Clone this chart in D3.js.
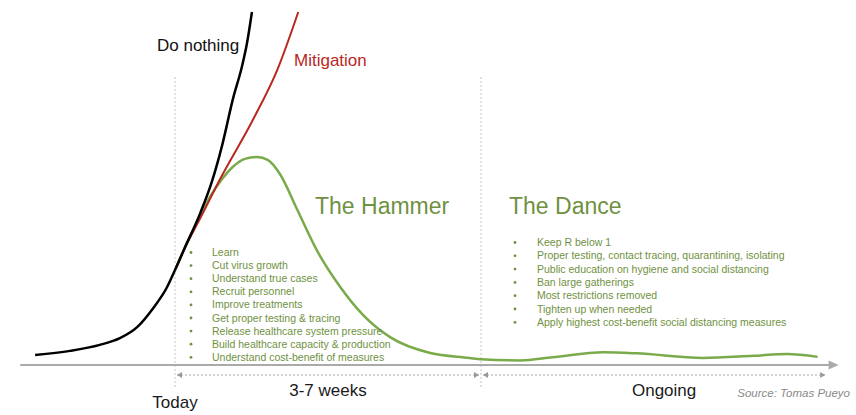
<!DOCTYPE html>
<html>
<head>
<meta charset="utf-8">
<script src="https://cdn.jsdelivr.net/npm/d3@7"></script>
<style>
  body { margin: 0; background: #fff; }
  svg { display: block; font-family: 'Liberation Sans', Arial, sans-serif; }
</style>
</head>
<body>
<svg id="chart" width="856" height="415"></svg>
<script>
// x in days from "Today", y in relative cases (0 = axis, 100 = top)
const doNothing = [
  [-16.0, 2.8], [-12.0, 4.0], [-8.6, 5.7], [-6.3, 7.6], [-4.3, 10.8], [-2.5, 16.1],
  [-0.9, 22.1], [0, 26.9], [1.1, 33.1], [2.9, 43.1], [4.2, 51.8], [5.4, 62.3],
  [6.6, 75.1], [7.7, 85.0], [8.2, 90.7], [8.8, 100]
]
const mitigation = [
  [0, 26.9], [1.1, 33.1], [2.9, 41.6], [5.1, 52.4], [8.9, 69.4], [11.7, 83.6], [14.1, 100]
]
const hammerDance = [
  [0.2, 28.0], [1.1, 33.1], [2.9, 42.2], [4.0, 47.6], [5.3, 52.4], [6.6, 56.1],
  [8.0, 58.4], [9.4, 58.9], [10.6, 58.1], [12.0, 54.1], [14.0, 43.9], [16.2, 32.6],
  [18.9, 22.1], [21.5, 14.2], [24.6, 7.9], [29.2, 3.4], [33.7, 2.0], [35.0, 1.6],
  [39.5, 1.3], [43.2, 2.2], [49.0, 3.6], [52.8, 3.3], [60.4, 2.0], [66.1, 2.6],
  [70.0, 3.1], [73.5, 2.3]
]
const phaseMarks = [0, 35]          // Today, end of the hammer
const axisExtent = [-17.7, 75.9]
const spans = [
  { from: 0, to: 35, label: '3-7 weeks' },
  { from: 35, to: 74.6, label: 'Ongoing' }
]
const hammerItems = [
  'Learn', 'Cut virus growth', 'Understand true cases', 'Recruit personnel',
  'Improve treatments', 'Get proper testing & tracing', 'Release healthcare system pressure',
  'Build healthcare capacity & production', 'Understand cost-benefit of measures'
]
const danceItems = [
  'Keep R below 1', 'Proper testing, contact tracing, quarantining, isolating',
  'Public education on hygiene and social distancing', 'Ban large gatherings',
  'Most restrictions removed', 'Tighten up when needed',
  'Apply highest cost-benefit social distancing measures'
]

const green = '#7aab4a'
const textGreen = '#6f9142'

const svg = d3.select('#chart')

const x = d3.scaleLinear().domain([0, 35]).range([175, 481])
const y = d3.scaleLinear().domain([0, 100]).range([365, 12])

const line = d3.line()
  .x(d => x(d[0]))
  .y(d => y(d[1]))
  .curve(d3.curveMonotoneX)

// dotted phase dividers
svg.selectAll('.divider')
  .data(phaseMarks)
  .enter()
  .append('line')
  .attr('class', 'divider')
  .attr('x1', d => x(d)).attr('x2', d => x(d))
  .attr('y1', 77).attr('y2', 387)
  .attr('stroke', '#c4c4c4')
  .attr('stroke-width', 1)
  .attr('stroke-dasharray', '2,2')

// main axis with arrow
const x0 = x(axisExtent[0])
const x1 = x(axisExtent[1])
svg.append('line')
  .attr('x1', x0).attr('x2', x1 - 8)
  .attr('y1', y(0)).attr('y2', y(0))
  .attr('stroke', '#aaa')
  .attr('stroke-width', 2)
svg.append('path')
  .attr('d', `M${x1},${y(0)} L${x1 - 10},${y(0) - 4.5} L${x1 - 10},${y(0) + 4.5} Z`)
  .attr('fill', '#aaa')

// span arrows under the axis
const spanY = 375
const spanG = svg.selectAll('.span')
  .data(spans)
  .enter()
  .append('g')
  .attr('class', 'span')
spanG.append('line')
  .attr('x1', d => x(d.from) + 2).attr('x2', d => x(d.to) - 2)
  .attr('y1', spanY).attr('y2', spanY)
  .attr('stroke', '#aaa')
  .attr('stroke-width', 1)
  .attr('stroke-dasharray', '2,2')
spanG.append('path')
  .attr('d', d => {
    const a = x(d.from) + 2
    const b = x(d.to) - 2
    return `M${a},${spanY} L${a + 5},${spanY - 3} L${a + 5},${spanY + 3} Z` +
      `M${b},${spanY} L${b - 5},${spanY - 3} L${b - 5},${spanY + 3} Z`
  })
  .attr('fill', '#999')
spanG.append('text')
  .text(d => d.label)
  .attr('x', d => (x(d.from) + x(d.to)) / 2 + (d.label === 'Ongoing' ? 10 : 0))
  .attr('y', 396)
  .attr('text-anchor', 'middle')
  .attr('font-size', 17)
  .attr('fill', '#1a1a1a')

svg.append('text')
  .text('Today')
  .attr('x', x(0))
  .attr('y', 408)
  .attr('text-anchor', 'middle')
  .attr('font-size', 17)
  .attr('fill', '#1a1a1a')

svg.append('text')
  .text('Source: Tomas Pueyo')
  .attr('x', 850)
  .attr('y', 397)
  .attr('text-anchor', 'end')
  .attr('font-size', 11.5)
  .attr('font-style', 'italic')
  .attr('fill', '#8a8a8a')

// curves
svg.append('path')
  .datum(hammerDance)
  .attr('d', line)
  .attr('fill', 'none')
  .attr('stroke', green)
  .attr('stroke-width', 2.5)

svg.append('path')
  .datum(mitigation)
  .attr('d', line)
  .attr('fill', 'none')
  .attr('stroke', '#b8281e')
  .attr('stroke-width', 2)

svg.append('path')
  .datum(doNothing)
  .attr('d', line)
  .attr('fill', 'none')
  .attr('stroke', '#000')
  .attr('stroke-width', 2.5)

// curve labels
svg.append('text')
  .text('Do nothing')
  .attr('x', 157).attr('y', 51)
  .attr('font-size', 17)
  .attr('fill', '#111')

svg.append('text')
  .text('Mitigation')
  .attr('x', 294).attr('y', 66)
  .attr('font-size', 17)
  .attr('fill', '#b8281e')

svg.append('text')
  .text('The Hammer')
  .attr('x', 315).attr('y', 214)
  .attr('font-size', 23)
  .attr('fill', textGreen)

svg.append('text')
  .text('The Dance')
  .attr('x', 509).attr('y', 214)
  .attr('font-size', 23)
  .attr('fill', textGreen)

// bullet lists
function bulletList(items, bx, tx, top, step) {
  const g = svg.append('g')
  const rows = g.selectAll('g')
    .data(items)
    .enter()
    .append('g')
    .attr('transform', (d, i) => `translate(0,${top + i * step})`)
  rows.append('circle')
    .attr('cx', bx).attr('cy', -3.5)
    .attr('r', 1.4)
    .attr('fill', textGreen)
  rows.append('text')
    .text(d => d)
    .attr('x', tx)
    .attr('font-size', 10.5)
    .attr('fill', textGreen)
}

bulletList(hammerItems, 191, 212, 256, 13.1)
bulletList(danceItems, 515, 537, 246, 13.3)
</script>
</body>
</html>
